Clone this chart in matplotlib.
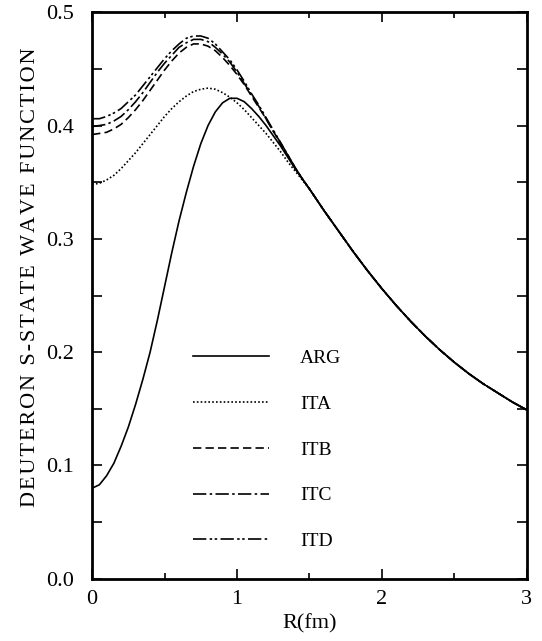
import matplotlib
matplotlib.use("Agg")
import matplotlib.pyplot as plt
from matplotlib.ticker import MultipleLocator, FormatStrFormatter

plt.rcParams['font.family'] = ['Liberation Serif', 'DejaVu Serif']

# radius grid (fm)
r_head = [0.00, 0.05, 0.10, 0.15, 0.20, 0.25, 0.30, 0.35, 0.40, 0.45,
          0.50, 0.55, 0.60, 0.65, 0.70, 0.75, 0.80, 0.85, 0.90, 0.95,
          1.00, 1.05, 1.10, 1.15, 1.20, 1.25, 1.30, 1.35, 1.40, 1.45,
          1.50]
r_tail = [1.6, 1.7, 1.8, 1.9, 2.0, 2.1, 2.2, 2.3, 2.4, 2.5, 2.6,
          2.7, 2.8, 2.9, 3.0]

# S-state wave function
arg = [0.080, 0.083, 0.091, 0.102, 0.117, 0.134, 0.154, 0.176, 0.200,
       0.228, 0.258, 0.288, 0.316, 0.341, 0.364, 0.384, 0.400, 0.412,
       0.420, 0.424, 0.424, 0.421, 0.415, 0.408, 0.400, 0.391, 0.382,
       0.372, 0.362, 0.353, 0.344]
ita = [0.348, 0.349, 0.352, 0.356, 0.362, 0.369, 0.376, 0.384, 0.392,
       0.400, 0.408, 0.415, 0.421, 0.426, 0.430, 0.432, 0.433, 0.432,
       0.429, 0.425, 0.420, 0.414, 0.407, 0.400, 0.393, 0.385, 0.377,
       0.368, 0.360, 0.352, 0.344]
itb = [0.392, 0.393, 0.394, 0.397, 0.401, 0.407, 0.414, 0.422, 0.431,
       0.440, 0.449, 0.457, 0.464, 0.469, 0.472, 0.472, 0.470, 0.466,
       0.460, 0.453, 0.445, 0.436, 0.426, 0.416, 0.406, 0.395, 0.384,
       0.374, 0.363, 0.353, 0.344]
itc = [0.399, 0.400, 0.401, 0.404, 0.408, 0.414, 0.421, 0.429, 0.438,
       0.447, 0.455, 0.462, 0.469, 0.473, 0.476, 0.476, 0.474, 0.469,
       0.463, 0.456, 0.447, 0.437, 0.427, 0.417, 0.406, 0.395, 0.385,
       0.374, 0.363, 0.353, 0.344]
itd = [0.406, 0.406, 0.408, 0.411, 0.415, 0.421, 0.427, 0.435, 0.443,
       0.451, 0.459, 0.466, 0.472, 0.477, 0.479, 0.479, 0.477, 0.472,
       0.465, 0.458, 0.449, 0.439, 0.428, 0.418, 0.407, 0.396, 0.385,
       0.374, 0.363, 0.353, 0.344]
# all five curves coincide beyond ~1.5 fm
tail = [0.325, 0.307, 0.289, 0.272, 0.256, 0.241, 0.227, 0.214, 0.202,
        0.191, 0.181, 0.172, 0.164, 0.156, 0.149]

labels = ['ARG', 'ITA', 'ITB', 'ITC', 'ITD']
styles = ['-', (0, (1, 1.3)), (0, (5, 2.5)), (0, (8, 2, 1.5, 2)),
          (0, (8, 2, 1.5, 1.5, 1.5, 2))]

fig = plt.figure(figsize=(5.42, 6.41), dpi=100)
ax = fig.add_axes([0.170, 0.097, 0.802, 0.884])

r = r_head + r_tail
for vals, lab, ls in zip([arg, ita, itb, itc, itd], labels, styles):
    ax.plot(r, vals + tail, color='black', linestyle=ls, linewidth=1.2,
            label=lab)

ax.set_xlim(0, 3)
ax.set_ylim(0, 0.5)
ax.xaxis.set_major_locator(MultipleLocator(1))
ax.xaxis.set_minor_locator(MultipleLocator(0.5))
ax.yaxis.set_major_locator(MultipleLocator(0.1))
ax.yaxis.set_minor_locator(MultipleLocator(0.05))
ax.yaxis.set_major_formatter(FormatStrFormatter('%.1f'))

ax.tick_params(which='both', direction='in', top=True, right=True,
               width=1.2, labelsize=16)
ax.tick_params(axis='x', which='both', pad=8)
ax.tick_params(axis='y', which='both', pad=13)
ax.tick_params(which='major', length=7)
ax.tick_params(which='minor', length=7)
ax.tick_params(axis='x', which='minor', length=4)
for sp in ax.spines.values():
    sp.set_linewidth(2)

ax.set_xlabel('R(fm)', fontsize=16, labelpad=4)
ylab = '\u200a'.join('DEUTERON S-STATE WAVE FUNCTION')
ax.set_ylabel(ylab, fontsize=16)
ax.yaxis.set_label_coords(-0.12, 0.533)

ax.legend(loc='upper left', bbox_to_anchor=(0.232, 0.405), frameon=False,
          borderpad=0, borderaxespad=0,
          handlelength=3.9, handletextpad=1.6, labelspacing=1.45,
          fontsize=14)

fig.savefig('out.png', dpi=100)
